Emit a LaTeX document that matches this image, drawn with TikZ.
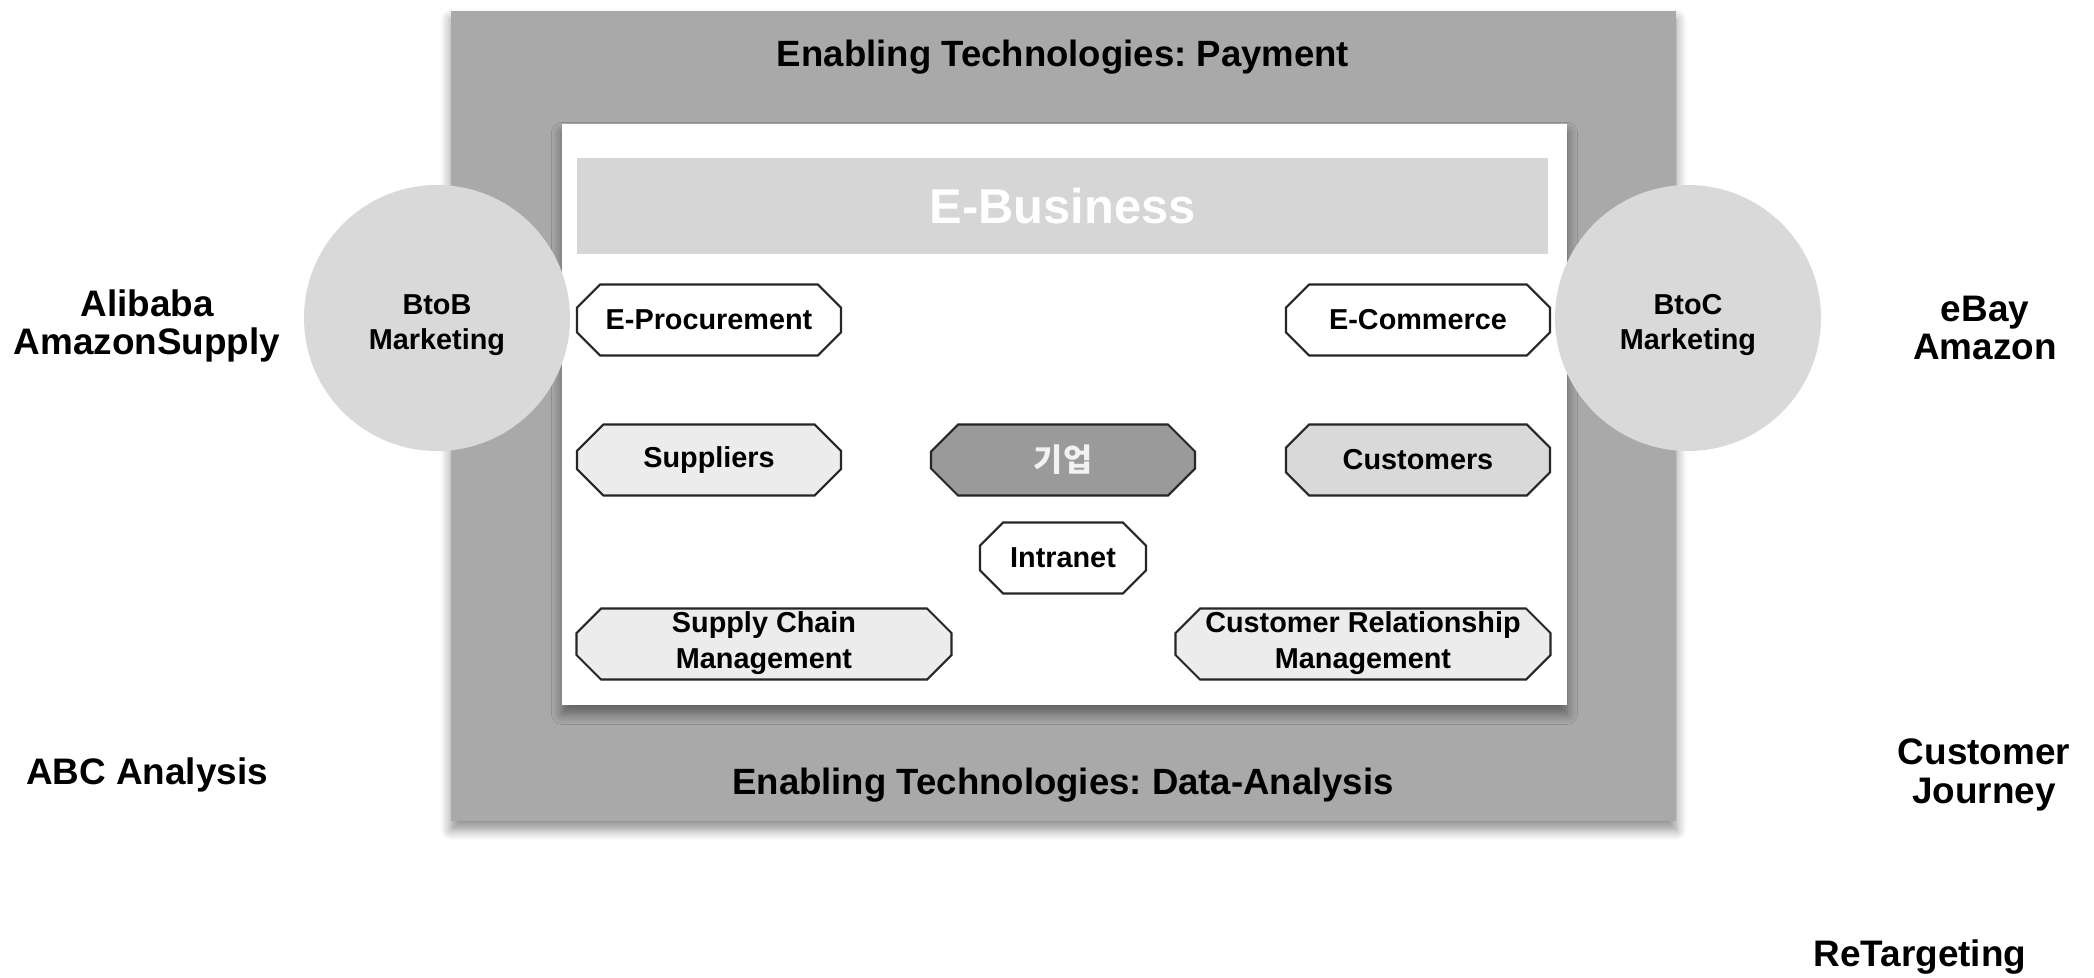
\documentclass[tikz,border=0pt]{standalone}
\usepackage{fontspec}
\setmainfont{Liberation Sans}
\newfontfamily\krfont{Noto Sans CJK KR}
\usetikzlibrary{shapes.misc,shadows.blur}
\frenchspacing

\definecolor{framegray}{HTML}{A9A9A9}
\definecolor{bargray}{HTML}{D6D6D6}
\definecolor{circlegray}{HTML}{D9D9D9}
\definecolor{coregray}{HTML}{9A9A9A}
\definecolor{custgray}{HTML}{D9D9D9}
\definecolor{partgray}{HTML}{ECECEC}

\tikzset{
  panel/.style={rectangle,inner sep=0pt,
    blur shadow={shadow xshift=0pt,shadow yshift=-2.5pt,shadow blur steps=8,shadow blur radius=3pt,shadow opacity=45}},
  octa/.style={chamfered rectangle,chamfered rectangle xsep=1.4mm,chamfered rectangle ysep=1.3mm,
    draw=black!85,line width=0.6pt,inner sep=0pt,minimum height=7.1mm,align=center,
    font=\fontsize{8.2}{10}\selectfont\bfseries},
  twoline/.style={chamfered rectangle ysep=1.05mm,text height=14.2pt,text depth=0pt,
    font=\fontsize{8.2}{10.3}\selectfont\bfseries},
  market/.style={circle,fill=circlegray,minimum size=26.6mm,inner sep=0pt,align=center,text height=19.7pt,
    font=\fontsize{8.2}{10}\selectfont\bfseries},
  side/.style={align=center,font=\fontsize{10.5}{11}\selectfont\bfseries},
  tech/.style={font=\fontsize{10.4}{12}\selectfont\bfseries}
}

\begin{document}
\begin{tikzpicture}[x=0.1mm,y=-0.1mm]
\useasboundingbox (0,0) rectangle (2094,977);

\node[panel,fill=framegray,minimum width=122.5mm,minimum height=81mm] (frame) at (1063.5,416) {};
\node[tech] (payment) at (1063,57) {Enabling Technologies: Payment};
\node[tech] (analysis) at (1063,785) {Enabling Technologies: Data-Analysis};

\node[panel,fill=white,minimum width=100.5mm,minimum height=58.1mm] (ebox) at (1064.5,414.5) {};
\node[fill=bargray,minimum width=97.1mm,minimum height=9.6mm,inner sep=0pt,text=white,
  font=\fontsize{13.9}{16}\selectfont\bfseries] (ebiz) at (1062.5,206) {E-Business};

\node[octa,fill=white,minimum width=26.4mm] (eproc) at (709,320) {E-Procurement};
\node[octa,fill=white,minimum width=26.4mm] (ecom) at (1418,320) {E-Commerce};
\node[octa,fill=partgray,minimum width=26.4mm] (supp) at (709,460) {Suppliers};
\node[octa,fill=coregray,minimum width=26.4mm,text=white!95!black,font=\fontsize{9}{10}\selectfont\krfont\bfseries] (firm) at (1063,460) {기업};
\node[octa,fill=custgray,minimum width=26.4mm] (cust) at (1418,460) {Customers};
\node[octa,fill=white,minimum width=16.6mm] (intra) at (1063,558) {Intranet};
\node[octa,twoline,fill=partgray,minimum width=37.5mm] (scm) at (764,644) {Supply Chain\\Management};
\node[octa,twoline,fill=partgray,minimum width=37.5mm] (crm) at (1363,644) {Customer Relationship\\Management};

\node[market] (btob) at (437,318) {BtoB\\Marketing};
\node[market] (btoc) at (1688,318) {BtoC\\Marketing};

\node[side] (b2bex) at (147,326) {Alibaba\\AmazonSupply};
\node[side] (b2cex) at (1985,328) {eBay\\Amazon};
\node[side] (abc) at (147,775) {ABC Analysis};
\node[side] (journey) at (1984,775) {Customer\\Journey};
\node[side] (retarget) at (1920,957) {ReTargeting};
\end{tikzpicture}
\end{document}
